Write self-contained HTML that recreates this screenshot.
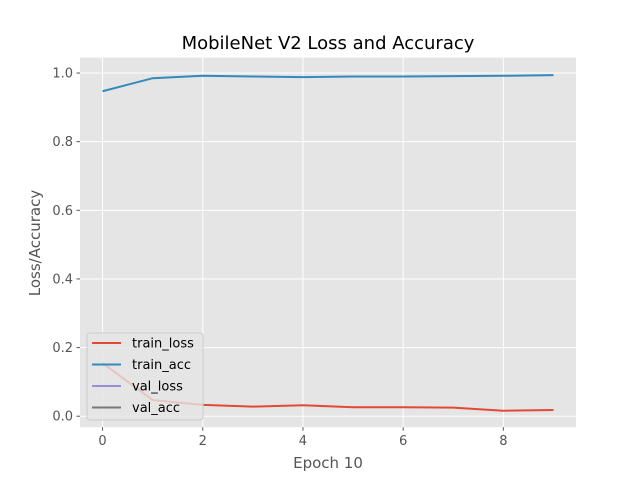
<!DOCTYPE html>
<html><head><meta charset="utf-8"><style>
body{margin:0;background:#fff;font-family:"Liberation Sans","DejaVu Sans",sans-serif}
svg text{font-family:"DejaVu Sans","Liberation Sans",sans-serif}
</style></head><body>
<svg id="chart" width="640" height="480" xmlns="http://www.w3.org/2000/svg">
<rect width="640" height="480" fill="#fff"/>
<rect x="80" y="57.6" width="496" height="369.6" fill="#e5e5e5"/>
<g id="grid"></g><g id="ticks"></g><g id="series"></g>
<text x="328" y="49" text-anchor="middle" font-size="18" fill="#000">MobileNet V2 Loss and Accuracy</text>
<text x="328" y="468" text-anchor="middle" font-size="15" fill="#555">Epoch 10</text>
<text transform="translate(40,243) rotate(-90)" text-anchor="middle" font-size="15" fill="#555">Loss/Accuracy</text>
<g id="legend"></g>
</svg>
<script>
const epochs=[0,1,2,3,4,5,6,7,8,9];
const trainLoss=[0.155,0.047,0.033,0.028,0.032,0.026,0.026,0.025,0.016,0.018];
const trainAcc=[0.947,0.985,0.992,0.990,0.988,0.990,0.990,0.991,0.992,0.994];
const xTicks=[0,2,4,6,8];
const yTicks=[0.0,0.2,0.4,0.6,0.8,1.0];
const seriesNames=["train_loss","train_acc","val_loss","val_acc"];
const seriesColors=["#e24a33","#348abd","#988ed5","#777777"];
const L=80,R=576,T=57.6,B=427.2,x0=-0.45,x1=9.45,y0=-0.032,y1=1.045;
const X=v=>L+(v-x0)/(x1-x0)*(R-L), Y=v=>B-(v-y0)/(y1-y0)*(B-T);
const NS="http://www.w3.org/2000/svg";
function mk(tag,attrs,parent){const e=document.createElementNS(NS,tag);for(const k in attrs)e.setAttribute(k,attrs[k]);parent.appendChild(e);return e;}
const grid=document.getElementById('grid'),ticks=document.getElementById('ticks'),ser=document.getElementById('series'),leg=document.getElementById('legend');
xTicks.forEach(t=>{
 const g=mk('line',{x1:X(t),x2:X(t),y1:T,y2:B,stroke:'#fff','stroke-width':1},grid);
 
 
 mk('line',{x1:X(t),x2:X(t),y1:B,y2:B+3.5,stroke:'#555'},ticks);
 const tx=mk('text',{x:X(t),y:B+18,'text-anchor':'middle','font-size':13,fill:'#555'},ticks);tx.textContent=t;
 
 
});
yTicks.forEach(t=>{
 const g=mk('line',{x1:L,x2:R,y1:Y(t),y2:Y(t),stroke:'#fff','stroke-width':1},grid);
 
 
 mk('line',{x1:L-3.5,x2:L,y1:Y(t),y2:Y(t),stroke:'#555'},ticks);
 const tx=mk('text',{x:L-7,y:Y(t)+4.5,'text-anchor':'end','font-size':13,fill:'#555'},ticks);tx.textContent=t.toFixed(1);
 
 
});
function line(vals,color,name){
 const p=mk('polyline',{points:vals.map((v,i)=>X(epochs[i])+','+Y(v)).join(' '),fill:'none',stroke:color,'stroke-width':2},ser);
 
 
}
line(trainLoss,seriesColors[0],'train-loss-line');
line(trainAcc,seriesColors[1],'train-acc-line');
const lb=mk('rect',{x:87,y:333,width:116,height:87,rx:3,fill:'#e5e5e5','fill-opacity':0.8,stroke:'#ccc'},leg);


seriesNames.forEach((n,i)=>{
 const y=343+i*21.5;
 mk('line',{x1:92,x2:121,y1:y,y2:y,stroke:seriesColors[i],'stroke-width':2},leg);
 const t=mk('text',{x:132,y:y+4.5,'font-size':13,fill:'#000'},leg);t.textContent=n;
 
 
});
</script>
</body></html>
